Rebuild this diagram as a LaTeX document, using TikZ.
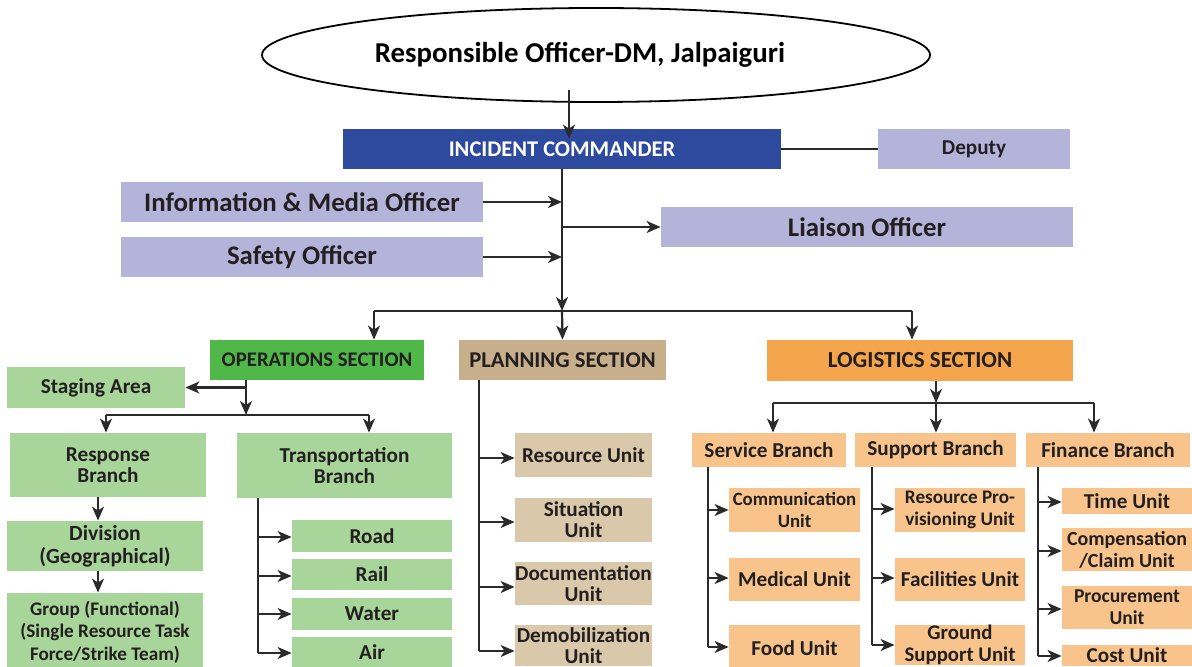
\documentclass[tikz,border=0pt]{standalone}
\usepackage{fontspec}
\setmainfont{Carlito}
\usetikzlibrary{arrows.meta,shapes.geometric}
\definecolor{icblue}{HTML}{2E4A9E}
\definecolor{lav}{HTML}{B4B4DA}
\definecolor{opsg}{HTML}{50B848}
\definecolor{lgr}{HTML}{A8D59A}
\definecolor{tanA}{HTML}{C8AF8B}
\definecolor{tanB}{HTML}{D9C8A9}
\definecolor{orA}{HTML}{F5A54B}
\definecolor{orB}{HTML}{F8C48C}
\definecolor{ink}{HTML}{231F20}
\definecolor{lnc}{HTML}{2B2B2B}
\newcommand\ubox[7]{\node[box,#2,minimum width={(#5-#3)*0.5pt},minimum height={(#6-#4)*0.5pt}] (#1) at ({(#3+#5)/2},{(#4+#6)/2}) {#7};}
\newcommand\fs[2]{\fontsize{#1}{#2}\selectfont}
\begin{document}
\begin{tikzpicture}[x=0.5pt,y=-0.5pt,
  box/.style={rectangle,inner sep=0pt,align=center,text=ink,font=\bfseries\fs{10.6}{10.5}},
  f/.style={font=\bfseries\fs{#1}{11}},
  conn/.style={draw=lnc,line width=1.1pt},
  arr/.style={conn,-{Stealth[length=7pt,width=6pt,inset=2pt]}},
  big/.style={font=\bfseries\fs{13.4}{15}}]
\useasboundingbox (0,0) rectangle (1192,667);
\clip (0,0) rectangle (1192,667);
% top
\node[ellipse,draw=black,line width=0.9pt,minimum width=334pt,minimum height=47pt,inner sep=0pt,font=\bfseries\fs{14.4}{16}] (ro) at (596,55) {Responsible Officer-DM, Jalpaiguri\hspace*{16pt}};
\ubox{ic}{fill=icblue,text=white,font=\bfseries\fs{11.2}{12}}{343}{129}{781}{169}{INCIDENT COMMANDER}
\ubox{dep}{fill=lav,font=\bfseries\fs{10.6}{12}}{878}{129}{1070}{169}{Deputy}
\ubox{info}{fill=lav,big}{121}{182}{483}{222}{Information \& Media Officer}
\ubox{saf}{fill=lav,big}{121}{237}{483}{277}{Safety Officer}
\ubox{lia}{fill=lav,big}{661}{207}{1073}{247}{Liaison Officer}
% sections
\ubox{ops}{fill=opsg,f=10.4}{210}{340}{424}{380}{OPERATIONS SECTION}
\ubox{plan}{fill=tanA,f=11.3}{459}{340}{666}{380}{PLANNING SECTION}
\ubox{log}{fill=orA,f=11.5}{767}{340}{1073}{381}{LOGISTICS SECTION}
% operations
\ubox{stag}{fill=lgr}{7}{367}{185}{408}{Staging Area}
\ubox{resp}{fill=lgr}{10}{433}{206}{497}{Response\\Branch}
\ubox{trans}{fill=lgr}{237}{433}{452}{498}{Transportation\\Branch}
\ubox{div}{fill=lgr,font=\bfseries\fs{10.8}{11.5}}{7}{521}{203}{571}{Division\\(Geographical)}
\ubox{grp}{fill=lgr,font=\bfseries\fs{9.6}{11.2}}{7}{593}{203}{671}{Group (Functional)\\(Single Resource Task\\Force/Strike Team)}
\ubox{road}{fill=lgr}{292}{520}{452}{552}{Road}
\ubox{rail}{fill=lgr}{292}{559}{452}{590}{Rail}
\ubox{water}{fill=lgr}{292}{598}{452}{630}{Water}
\ubox{air}{fill=lgr}{292}{637}{452}{668}{Air}
% planning
\ubox{resu}{fill=tanB}{515}{433}{652}{477}{Resource Unit}
\ubox{sit}{fill=tanB}{515}{498}{652}{542}{Situation\\Unit}
\ubox{doc}{fill=tanB}{515}{562}{652}{605}{Documentation\\Unit}
\ubox{demob}{fill=tanB}{515}{625}{652}{666}{Demobilization\\Unit}
% logistics
\ubox{svc}{fill=orB}{692}{433}{846}{467}{Service Branch}
\ubox{sup}{fill=orB}{855}{433}{1016}{467}{Support Branch}
\ubox{fin}{fill=orB}{1026}{433}{1190}{467}{Finance Branch}
\ubox{comm}{fill=orB,f=9.4}{729}{488}{860}{532}{Communication\\Unit}
\ubox{med}{fill=orB}{729}{558}{860}{601}{Medical Unit}
\ubox{food}{fill=orB}{729}{625}{860}{672}{Food Unit}
\ubox{rpu}{fill=orB,f=9.6}{895}{488}{1025}{532}{Resource Pro-\\visioning Unit}
\ubox{fac}{fill=orB}{895}{558}{1025}{601}{Facilities Unit}
\ubox{gsu}{fill=orB,f=10.4}{895}{625}{1025}{665}{Ground\\Support Unit}
\ubox{time}{fill=orB}{1062}{488}{1192}{514}{Time Unit}
\ubox{comp}{fill=orB,f=10}{1062}{528}{1192}{571}{Compensation\\/Claim Unit}
\ubox{proc}{fill=orB,f=9.8}{1062}{586}{1192}{629}{Procurement\\Unit}
\ubox{cost}{fill=orB}{1062}{645}{1192}{666}{Cost Unit}
% connectors top
\coordinate (eo) at (569,90);
\draw[arr,shorten >=-5pt] (eo) -- (eo |- ic.north);
\draw[conn] (ic.east) -- (dep.west);
\coordinate (barL) at (374,311);
\coordinate (barR) at (912,311);
\draw[arr] (ic.south) -- (ic.south |- barL);
\draw[arr] (info.east) -- (info.east -| ic.south);
\draw[arr] (saf.east) -- (saf.east -| ic.south);
\draw[arr] (lia.west -| ic.south) -- (lia.west);
\draw[conn] (barL) -- (barR);
\draw[arr] (barL) -- (barL |- ops.north);
\draw[arr] (ic.south |- barL) -- (plan.north);
\draw[arr] (barR) -- (barR |- log.north);
% operations connectors
\coordinate (ox) at (246,380);
\coordinate (obar) at (246,415);
\coordinate (rb) at (106,415);
\coordinate (tb) at (369,415);
\draw[arr] (ox) -- (obar);
\draw[arr] (ox |- stag.east) -- (stag.east);
\draw[conn] (rb) -- (tb);
\draw[arr] (rb) -- (rb |- resp.north);
\draw[arr] (tb) -- (tb |- trans.north);
\coordinate (rdx) at (98,0);
\draw[arr] (resp.south -| rdx) -- (div.north -| rdx);
\draw[arr] (div.south -| rdx) -- (grp.north -| rdx);
\coordinate (trx) at (258,653);
\draw[conn] (trans.south -| trx) -- (trx);
\foreach \n/\yy in {road/537,rail/576,water/614,air/653}
  \draw[arr] (trx |- 0,\yy) -- (\n.west |- 0,\yy);
% planning connectors
\coordinate (plx) at (479,651);
\draw[conn] (plan.south -| plx) -- (plx);
\foreach \n/\yy in {resu/458,sit/522,doc/587,demob/651}
  \draw[arr] (plx |- 0,\yy) -- (\n.west |- 0,\yy);
% logistics connectors
\coordinate (lgx) at (936,381);
\coordinate (lbar) at (936,403);
\coordinate (lbl) at (773,403);
\coordinate (lbr) at (1094,403);
\draw[arr] (lgx) -- (lbar);
\draw[conn] (lbl) -- (lbr);
\draw[arr] (lbl) -- (lbl |- svc.north);
\draw[arr] (lbar) -- (lbar |- sup.north);
\draw[arr] (lbr) -- (lbr |- fin.north);
\coordinate (svx) at (708,647);
\draw[conn] (svc.south -| svx) -- (svx);
\foreach \n/\yy in {comm/510,med/578,food/647}
  \draw[arr] (svx |- 0,\yy) -- (\n.west |- 0,\yy);
\coordinate (spx) at (872,645);
\draw[conn] (sup.south -| spx) -- (spx);
\foreach \n/\yy in {rpu/509,fac/578,gsu/645}
  \draw[arr] (spx |- 0,\yy) -- (\n.west |- 0,\yy);
\coordinate (fnx) at (1038,656);
\draw[conn] (fin.south -| fnx) -- (fnx);
\foreach \n/\yy in {time/502,comp/551,proc/609,cost/656}
  \draw[arr] (fnx |- 0,\yy) -- (\n.west |- 0,\yy);
\end{tikzpicture}
\end{document}
